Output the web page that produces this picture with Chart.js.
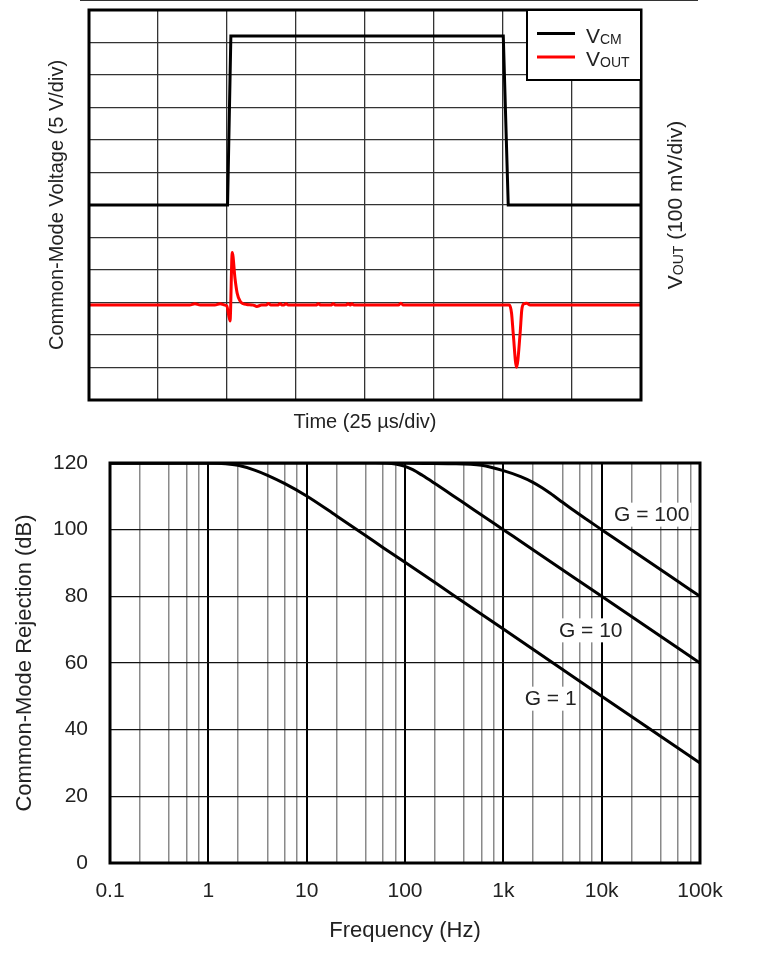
<!DOCTYPE html>
<html>
<head>
<meta charset="utf-8">
<script src="https://cdn.jsdelivr.net/npm/chart.js@4.4.0/dist/chart.umd.min.js"></script>
<style>
  html, body { margin: 0; padding: 0; background: #fff; }
  #page { position: relative; width: 758px; height: 962px; overflow: hidden; background: #fff; }
  #rule { position: absolute; left: 80px; top: 0; width: 618px; height: 1px; background: #333; }
  #stepChart { position: absolute; left: 0; top: 0; }
  #cmrrChart { position: absolute; left: 0; top: 440px; }
</style>
</head>
<body>
<div id="page">
  <canvas id="stepChart" width="758" height="440"></canvas>
  <canvas id="cmrrChart" width="758" height="522"></canvas>
  <div id="rule"></div>
</div>
<script>
// ---- top plot: common-mode step (time in us) ----
const vcmTime = [0, 50.2, 51.4, 150.1, 151.9, 200];
const vcmVolts = [0, 0, 26, 26, 0, 0];

const voutTime = [0, 36.5, 38.4, 40.3, 45.6, 47.5, 49.2, 49.9, 51.1, 51.9, 52.9, 53.7, 54.7, 55.9, 57.1,
  59.5, 60.8, 62.5, 64.2, 65.0, 65.9, 68.3, 69.2, 70.1, 70.6, 71.4, 72.2, 82.2, 83.1, 84.0,
  87.6, 88.5, 89.4, 93.0, 93.9, 94.6, 95.2, 96.0, 112.1, 113.0, 113.9,
  152.3, 153.1, 153.7, 154.9, 156.2, 156.8, 157.4, 158.6, 159.8, 200];
const voutMv = [-8, -8, -4, -8, -8, -4, -8, -10, -57, 154, 74, 28, 5, -4, -6,
  -8, -12, -8, -8, -3, -8, -8, -4, -8, -8, -4, -8, -8, -4, -8,
  -8, -4, -8, -8, -4, -8, -4, -8, -8, -2, -8,
  -8, -33, -95, -199, -95, -23, -5, -2, -8, -8];

const legendMain = ['V', 'V'];
const legendSub = ['CM', 'OUT'];

// ---- bottom plot: CMRR vs frequency ----
const freqG1 = [0.1, 1, 1.5, 2, 3, 4, 6, 10, 20, 40, 60, 100, 200, 500, 1000, 10000, 100000];
const cmrrG1 = [120, 120, 119.8, 119.3, 117.8, 116.3, 113.8, 110.1, 104.2, 98.2, 94.6, 90.2, 84.2, 76.2, 70.2, 50, 30];

const freqG10 = [0.1, 50, 80, 100, 120, 150, 200, 300, 500, 1000, 2000, 10000, 100000];
const cmrrG10 = [120, 120, 119.7, 119, 118, 116.3, 113.9, 110.4, 106, 100, 94, 80, 60];

const freqG100 = [0.1, 30, 50, 80, 100, 300, 600, 1000, 1500, 2000, 2500, 3000, 4000, 5000, 7000, 10000, 20000, 50000, 100000];
const cmrrG100 = [120, 120.3, 120.6, 120.3, 120, 119.8, 119.3, 117.7, 115.9, 114.2, 112.5, 110.9, 108.2, 106.1, 103.1, 100, 94, 86, 80];

const gainNames = ['G = 1', 'G = 10', 'G = 100'];
const gainLabelFreq = [3030, 7740, 32300];
const gainLabelDb = [49.3, 69.8, 104.5];

const freqDecades = [0.1, 1, 10, 100, 1000, 10000, 100000];
const freqTickLabels = ['0.1', '1', '10', '100', '1k', '10k', '100k'];
const minorSteps = [2, 4, 6, 8];

const FONT = "'Liberation Sans', Arial, sans-serif";
const TEXT = '#222';
Chart.defaults.font.family = FONT;
Chart.defaults.color = TEXT;

function points(xs, ys) {
  return xs.map((x, i) => ({ x: x, y: ys[i] }));
}

// main text, smaller subscript, then optional normal-size rest
function drawSubText(ctx, main, sub, rest, x, baseline, size, subSize) {
  ctx.font = `${size}px ${FONT}`;
  ctx.fillText(main, x, baseline);
  let w = ctx.measureText(main).width;
  ctx.font = `${subSize}px ${FONT}`;
  ctx.fillText(sub, x + w, baseline + 1);
  w += ctx.measureText(sub).width;
  if (rest) {
    ctx.font = `${size}px ${FONT}`;
    ctx.fillText(rest, x + w, baseline);
  }
}

function subTextWidth(ctx, main, sub, rest, size, subSize) {
  ctx.font = `${size}px ${FONT}`;
  let w = ctx.measureText(main).width + (rest ? ctx.measureText(rest).width : 0);
  ctx.font = `${subSize}px ${FONT}`;
  return w + ctx.measureText(sub).width;
}

const framePlugin = {
  id: 'frame',
  afterDatasetsDraw(chart) {
    const { ctx, chartArea: a } = chart;
    ctx.save();
    ctx.strokeStyle = '#000';
    ctx.lineWidth = 3;
    ctx.strokeRect(a.left, a.top, a.right - a.left, a.bottom - a.top);
    ctx.restore();
  }
};

// legend box + right axis title with subscripts
const stepExtras = {
  id: 'stepExtras',
  afterDraw(chart) {
    const { ctx, chartArea: a } = chart;
    const w = 114, h = 70;
    const x0 = a.right - w, y0 = a.top;
    ctx.save();
    ctx.fillStyle = '#fff';
    ctx.fillRect(x0, y0, w, h);
    ctx.strokeStyle = '#000';
    ctx.lineWidth = 2;
    ctx.strokeRect(x0, y0, w, h);
    chart.data.datasets.forEach((ds, i) => {
      const y = y0 + 23.5 + i * 23.5;
      ctx.strokeStyle = ds.borderColor;
      ctx.lineWidth = 3;
      ctx.beginPath();
      ctx.moveTo(x0 + 10, y);
      ctx.lineTo(x0 + 48, y);
      ctx.stroke();
      ctx.fillStyle = TEXT;
      ctx.textBaseline = 'alphabetic';
      drawSubText(ctx, legendMain[i], legendSub[i], '', x0 + 59, y + 9, 21, 14);
    });

    // V_OUT (100 mV/div), reading bottom to top
    const cx = a.right + 41, cy = (a.top + a.bottom) / 2;
    ctx.translate(cx, cy);
    ctx.rotate(-Math.PI / 2);
    ctx.fillStyle = TEXT;
    const tw = subTextWidth(ctx, 'V', 'OUT', ' (100 mV/div)', 21, 14);
    drawSubText(ctx, 'V', 'OUT', ' (100 mV/div)', -tw / 2, 0, 21, 14);
    ctx.restore();
  }
};

new Chart(document.getElementById('stepChart'), {
  type: 'line',
  data: {
    datasets: [{
      label: 'VCM',
      data: points(vcmTime, vcmVolts),
      yAxisID: 'yV',
      borderColor: '#000',
      borderWidth: 3,
      pointRadius: 0,
      tension: 0
    }, {
      label: 'VOUT',
      data: points(voutTime, voutMv),
      yAxisID: 'yOut',
      borderColor: '#ff0000',
      borderWidth: 3,
      pointRadius: 0,
      cubicInterpolationMode: 'monotone'
    }]
  },
  options: {
    responsive: false,
    animation: false,
    devicePixelRatio: 1,
    layout: { padding: { top: 10, right: 0, bottom: 0, left: 0 } },
    plugins: { legend: { display: false }, tooltip: { enabled: false } },
    scales: {
      x: {
        type: 'linear',
        min: 0,
        max: 200,
        ticks: { display: false, stepSize: 25 },
        grid: { color: '#333', lineWidth: 1.3, drawTicks: false },
        border: { display: false },
        title: { display: true, text: 'Time (25 µs/div)', font: { size: 20 }, color: TEXT, padding: { top: 0, bottom: 6 } },
        afterFit(scale) { scale.height = 40; }
      },
      yV: {
        position: 'left',
        min: -30,
        max: 30,
        ticks: { display: false, stepSize: 5 },
        grid: { color: '#333', lineWidth: 1.3, drawTicks: false },
        border: { display: false },
        title: { display: true, text: 'Common-Mode Voltage (5 V/div)', font: { size: 20 }, color: TEXT, padding: { top: 45, bottom: 0 } },
        afterFit(scale) { scale.width = 89; }
      },
      yOut: {
        position: 'right',
        min: -300,
        max: 900,
        ticks: { display: false },
        grid: { display: false },
        border: { display: false },
        afterFit(scale) { scale.width = 117; }
      }
    }
  },
  plugins: [framePlugin, stepExtras]
});

// ---- CMRR chart ----
function isDecade(v) {
  const l = Math.log10(v);
  return Math.abs(l - Math.round(l)) < 1e-9;
}

const gainLabels = {
  id: 'gainLabels',
  afterDatasetsDraw(chart) {
    const { ctx, scales: { x, y } } = chart;
    ctx.save();
    ctx.font = `21px ${FONT}`;
    ctx.textAlign = 'center';
    ctx.textBaseline = 'middle';
    gainNames.forEach((name, i) => {
      const px = x.getPixelForValue(gainLabelFreq[i]);
      const py = y.getPixelForValue(gainLabelDb[i]);
      const w = ctx.measureText(name).width + 4;
      ctx.fillStyle = '#fff';
      ctx.fillRect(px - w / 2, py - 12, w, 24);
      ctx.fillStyle = TEXT;
      ctx.fillText(name, px, py + 1);
    });
    ctx.restore();
  }
};

const curveStyle = { borderColor: '#000', borderWidth: 3, pointRadius: 0, cubicInterpolationMode: 'monotone' };

new Chart(document.getElementById('cmrrChart'), {
  type: 'line',
  data: {
    datasets: [
      Object.assign({ label: 'G = 1', data: points(freqG1, cmrrG1) }, curveStyle),
      Object.assign({ label: 'G = 10', data: points(freqG10, cmrrG10) }, curveStyle),
      Object.assign({ label: 'G = 100', data: points(freqG100, cmrrG100) }, curveStyle)
    ]
  },
  options: {
    responsive: false,
    animation: false,
    devicePixelRatio: 1,
    layout: { padding: { top: 23, right: 58, bottom: 0, left: 0 } },
    plugins: { legend: { display: false }, tooltip: { enabled: false } },
    scales: {
      x: {
        type: 'logarithmic',
        min: 0.1,
        max: 100000,
        afterBuildTicks(scale) {
          const ticks = [];
          freqDecades.forEach((d, i) => {
            ticks.push({ value: d });
            if (i < freqDecades.length - 1) minorSteps.forEach(m => ticks.push({ value: d * m }));
          });
          scale.ticks = ticks;
        },
        ticks: {
          autoSkip: false,
          maxRotation: 0,
          padding: 16,
          font: { size: 21 },
          color: TEXT,
          callback(value) {
            const i = freqDecades.findIndex(d => Math.abs(d - value) < d * 1e-6);
            return i >= 0 ? freqTickLabels[i] : '';
          }
        },
        grid: {
          drawTicks: false,
          color: (c) => (c.tick && isDecade(c.tick.value)) ? '#000' : '#8a8a8a',
          lineWidth: (c) => (c.tick && isDecade(c.tick.value)) ? 2 : 1.5
        },
        border: { display: false },
        title: { display: true, text: 'Frequency (Hz)', font: { size: 22 }, color: TEXT, padding: { top: 0, bottom: 18 } },
        afterFit(scale) {
          scale.height = 99;
          scale.paddingLeft = 0;
          scale.paddingRight = 0;
        }
      },
      y: {
        min: 0,
        max: 120,
        ticks: { stepSize: 20, padding: 22, font: { size: 21 }, color: TEXT },
        grid: { color: '#111', lineWidth: 1.2, drawTicks: false },
        border: { display: false },
        title: { display: true, text: 'Common-Mode Rejection (dB)', font: { size: 22 }, color: TEXT, padding: { top: 12, bottom: 0 } },
        afterFit(scale) {
          scale.width = 110;
          scale.paddingTop = 0;
          scale.paddingBottom = 0;
        }
      }
    }
  },
  plugins: [framePlugin, gainLabels]
});
</script>
</body>
</html>
